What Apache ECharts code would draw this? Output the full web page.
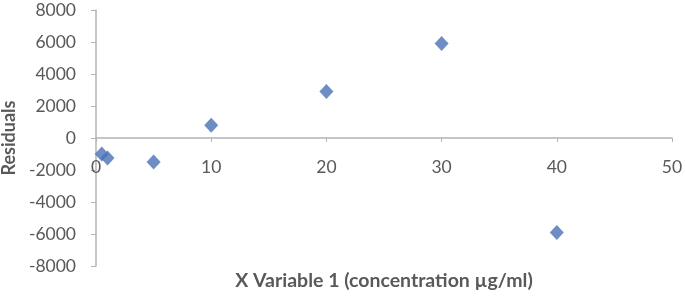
<!DOCTYPE html>
<html>
<head>
<meta charset="utf-8">
<script src="https://cdn.jsdelivr.net/npm/echarts@6/dist/echarts.min.js"></script>
<style>
  html, body { margin: 0; padding: 0; background: #fff; }
  #chart { width: 685px; height: 297px; }
</style>
</head>
<body>
<div id="chart"></div>
<script>
// residuals vs concentration
var xValues = [0.5, 1, 5, 10, 20, 30, 40];
var residuals = [-1000, -1250, -1500, 800, 2900, 5900, -5900];

var points = [];
for (var i = 0; i < xValues.length; i++) {
    points.push([xValues[i], residuals[i]]);
}

var axisGray = '#b3b3b3';
var labelGray = '#595959';
var font = 'Lato';
var gridTop = 10, gridBottom = 31, chartH = 297;

var myChart = echarts.init(document.getElementById('chart'));
var option = {
    animation: false,
    grid: { left: 96, right: 13, top: gridTop, bottom: gridBottom, outerBoundsMode: 'none', containLabel: false },
    xAxis: {
        type: 'value',
        min: 0,
        max: 50,
        interval: 10,
        // axis crosses y at 0 (middle of the symmetric range)
        offset: -(chartH - gridTop - gridBottom) / 2,
        name: 'X Variable 1 (concentration µg/ml)',
        nameLocation: 'middle',
        nameGap: 133,
        nameTextStyle: { color: labelGray, fontFamily: font, fontWeight: 'bold', fontSize: 19.5 },
        axisLine: { onZero: false, lineStyle: { color: axisGray, width: 1.5 } },
        axisTick: { show: true, length: 4, lineStyle: { color: axisGray } },
        axisLabel: { color: labelGray, fontFamily: font, fontSize: 17.5, margin: 20, formatter: function (v) { return String(v); } },
        splitLine: { show: false }
    },
    yAxis: {
        type: 'value',
        min: -8000,
        max: 8000,
        interval: 2000,
        name: 'Residuals',
        nameLocation: 'middle',
        nameGap: 73,
        nameTextStyle: { color: labelGray, fontFamily: font, fontWeight: 'bold', fontSize: 18 },
        axisLine: { show: true, onZero: false, lineStyle: { color: axisGray, width: 1.5 } },
        axisTick: { show: true, length: 5, lineStyle: { color: axisGray } },
        axisLabel: { color: labelGray, fontFamily: font, fontSize: 17.5, margin: 20, formatter: function (v) { return String(v); } },
        splitLine: { show: false }
    },
    series: [
        {
            type: 'scatter',
            symbol: 'diamond',
            symbolSize: [14, 15],
            itemStyle: { color: '#4a70b5' },
            data: points
        }
    ]
};
myChart.setOption(option);
</script>
</body>
</html>
